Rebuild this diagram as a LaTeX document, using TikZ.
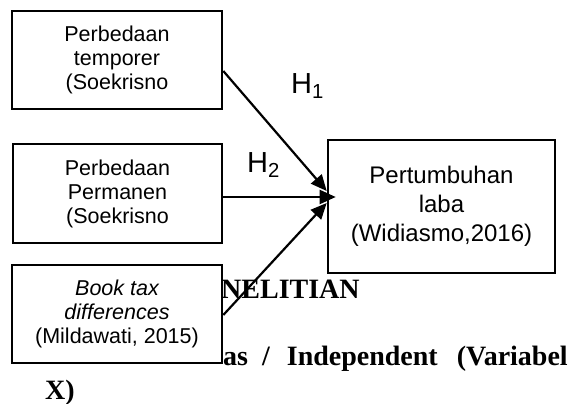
\documentclass[tikz,border=0pt]{standalone}
\usepackage{fontspec}
\setmainfont{Liberation Serif}
\newfontfamily\arialf{Liberation Sans}
\usetikzlibrary{arrows.meta}
\tikzset{
  varbox/.style={draw=black, line width=2.6pt, fill=white, rectangle, align=center, inner sep=0pt,
    font=\arialf\fontsize{21.5}{24}\selectfont},
  outbox/.style={draw=black, line width=2.6pt, fill=white, rectangle, align=center, inner sep=0pt,
    font=\arialf\fontsize{24}{29}\selectfont},
  conn/.style={draw=black, line width=2.2pt, -{Triangle[length=16pt,width=14pt]}},
  hlabel/.style={anchor=base west, inner sep=0pt, font=\arialf\fontsize{29}{29}\selectfont},
  bgtext/.style={anchor=base west, inner sep=0pt, font=\bfseries\fontsize{28}{28}\selectfont}
}
\begin{document}
\begin{tikzpicture}[x=1pt,y=-1pt]
\useasboundingbox (0,0) rectangle (576,404);
% background body text (partly hidden by boxes)
\node[bgtext] (t1) at (221,298) {NELITIAN};
\node[bgtext] (t2) at (223,365) {as\hspace{14pt}/\hspace{17pt}Independent\hspace{19pt}(Variabel};
\node[bgtext] (t3) at (45,399) {X)};
% boxes
\node[varbox, minimum width=210pt, minimum height=98pt] (b1) at (117,60)
  {Perbedaan\\temporer\\(Soekrisno};
\node[varbox, minimum width=209pt, minimum height=99pt] (b2) at (117.5,193.5)
  {Perbedaan\\Permanen\\(Soekrisno};
\node[varbox, minimum width=210pt, minimum height=98pt] (b3) at (117,314)
  {\itshape Book tax\\\itshape differences\\(Mildawati, 2015)};
\node[outbox, minimum width=227pt, minimum height=133pt] (out) at (441.5,206.5)
  {Pertumbuhan\\laba\\(Widiasmo,2016)};
% connectors
\draw[conn] ([yshift=-11pt]b1.east) -- ([yshift=15.5pt]out.west);
\draw[conn] ([yshift=-3.5pt]b2.east) -- ([xshift=9pt,yshift=9.5pt]out.west);
\draw[conn] ([yshift=-1pt]b3.east) -- ([yshift=3.5pt]out.west);
% hypothesis labels
\node[hlabel] (h1) at (291,93) {H\textsubscript{1}};
\node[hlabel] (h2) at (247,172) {H\textsubscript{2}};
\end{tikzpicture}
\end{document}
